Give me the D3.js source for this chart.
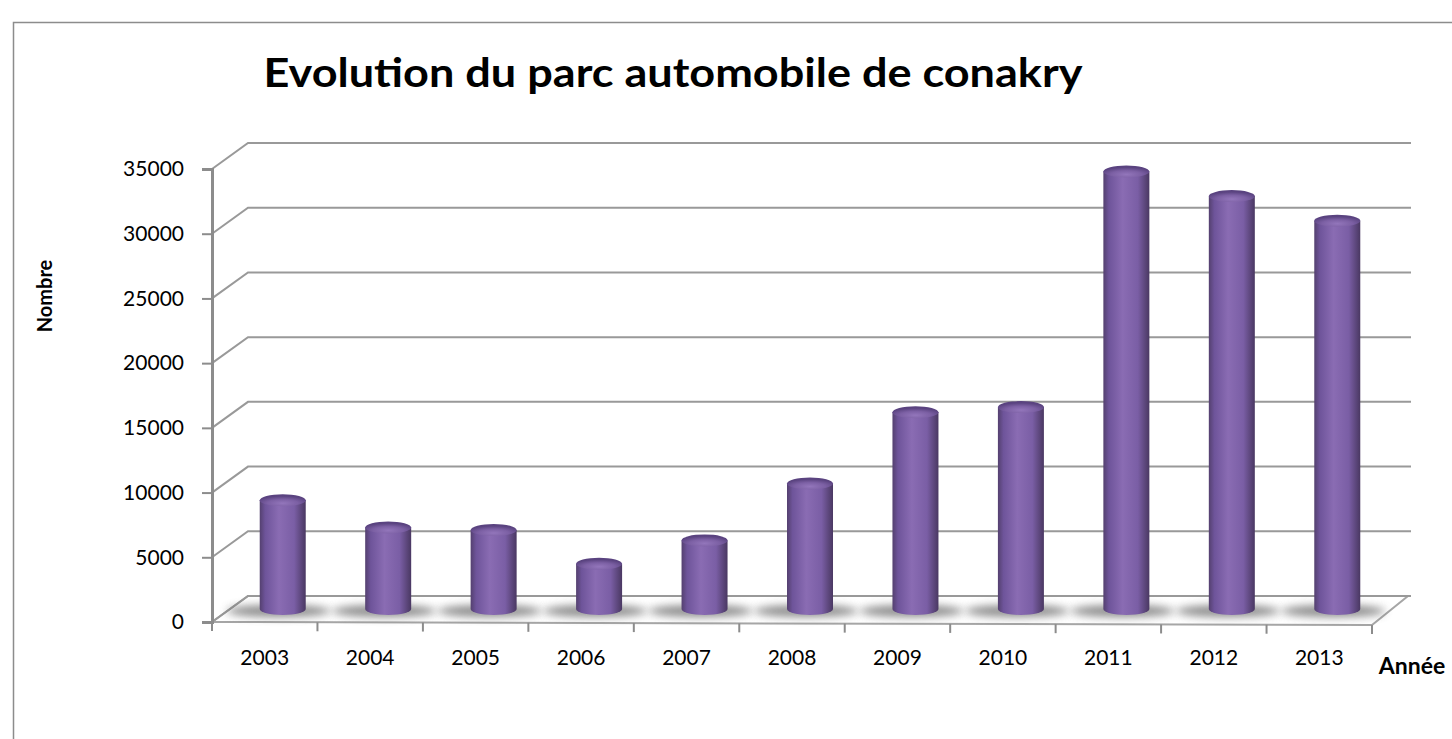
<!DOCTYPE html>
<html>
<head>
<meta charset="utf-8">
<script src="https://cdn.jsdelivr.net/npm/d3@7"></script>
<style>
  body { margin: 0; background: #fff; }
  svg { display: block; }
</style>
</head>
<body>
<div id="chart-container"></div>
<script>
// data
const years = ["2003", "2004", "2005", "2006", "2007", "2008", "2009", "2010", "2011", "2012", "2013"];
const counts = [8400, 6300, 6100, 3500, 5300, 9700, 15200, 15600, 33800, 31900, 30000];
const yTicks = [0, 5000, 10000, 15000, 20000, 25000, 30000, 35000];

const W = 1452, H = 739;
const depth = { dx: 36, dy: -26 };   // oblique offset of the back wall
const font = "Lato, 'Open Sans', sans-serif";

const svg = d3.select("#chart-container").append("svg")
    .attr("width", W).attr("height", H);

const defs = svg.append("defs");

// body gradient of the cylinders
const bodyGrad = defs.append("linearGradient").attr("id", "cyl").attr("x1", "0").attr("x2", "1");
[["0%", "#54406f"], ["12%", "#6e549a"], ["42%", "#8a6cb3"], ["75%", "#7a5ea5"], ["100%", "#4a3862"]]
    .forEach(([o, c]) => bodyGrad.append("stop").attr("offset", o).attr("stop-color", c));

const topGrad = defs.append("radialGradient").attr("id", "cyltop").attr("cx", "50%").attr("cy", "75%").attr("r", "60%");
[["0%", "#9376bb"], ["55%", "#7c60a4"], ["100%", "#5a4380"]]
    .forEach(([o, c]) => topGrad.append("stop").attr("offset", o).attr("stop-color", c));

defs.append("filter").attr("id", "blur").attr("x", "-50%").attr("y", "-200%").attr("width", "200%").attr("height", "500%")
    .append("feGaussianBlur").attr("stdDeviation", 4);

// outer border
svg.append("rect")
    .attr("x", 13.5).attr("y", 22.5).attr("width", W + 20).attr("height", H + 20)
    .attr("fill", "none").attr("stroke", "#8c8c8c").attr("stroke-width", 1.5);

const x = d3.scaleBand().domain(years).range([212, 1372]);
const y = d3.scaleLinear().domain([0, 35000]).range([622, 169]);

// floor
const x0 = x.range()[0], x1 = x.range()[1], y0 = y(0);
svg.append("polygon")
    .attr("points", [[x0, y0], [x1, y0 + 3], [x1 + depth.dx, y0 + depth.dy], [x0 + depth.dx, y0 + depth.dy]].join(" "))
    .attr("fill", "#fff").attr("stroke", "#a6a6a6").attr("stroke-width", 2);

// gridlines on side wall and back wall
const grid = svg.append("g").attr("stroke", "#999").attr("stroke-width", 2).attr("fill", "none");
yTicks.forEach(t => {
    grid.append("polyline")
        .attr("points", [[x0, y(t)], [x0 + depth.dx, y(t) + depth.dy], [x1 + depth.dx + 3, y(t) + depth.dy]].join(" "));
});

// shadows of the bars on the floor
const mid = { dx: depth.dx / 2, dy: depth.dy / 2 };
svg.append("g").selectAll("ellipse")
    .data(years)
    .join("ellipse")
    .attr("cx", d => x(d) + x.bandwidth() / 2 + mid.dx - 4)
    .attr("cy", y0 + mid.dy + 2)
    .attr("rx", 52).attr("ry", 6)
    .attr("fill", "#6e6e6e").attr("opacity", 0.8)
    .attr("filter", "url(#blur)");

// cylinders
const rx = 23, ry = 6;
const bars = svg.append("g").selectAll("g")
    .data(years.map((d, i) => ({ year: d, value: counts[i] })))
    .join("g")
    .attr("transform", d => `translate(${x(d.year) + x.bandwidth() / 2 + mid.dx},0)`);

bars.append("path")
    .attr("d", d => {
        const yt = y(d.value) + mid.dy, yb = y0 + mid.dy;
        return `M${-rx},${yt} L${-rx},${yb} A${rx},${ry} 0 0 0 ${rx},${yb} L${rx},${yt} Z`;
    })
    .attr("fill", "url(#cyl)");

bars.append("ellipse")
    .attr("cx", 0).attr("cy", d => y(d.value) + mid.dy)
    .attr("rx", rx).attr("ry", ry)
    .attr("fill", "url(#cyltop)");

// y axis
const yAxis = svg.append("g")
    .attr("transform", `translate(${x0},0)`)
    .call(d3.axisLeft(y).tickValues(yTicks).tickFormat(d3.format("d")).tickSize(10).tickPadding(18));
yAxis.select(".domain").attr("stroke", "#8c8c8c").attr("stroke-width", 3);
yAxis.selectAll(".tick line").attr("stroke", "#8c8c8c").attr("stroke-width", 2);
yAxis.selectAll("text").attr("font-family", font).attr("font-size", 21).attr("fill", "#000");

// x axis: labels at category centres, ticks on the boundaries
const xAxis = svg.append("g")
    .attr("transform", `translate(0,${y0})`)
    .call(d3.axisBottom(x).tickSize(0).tickPadding(28));
xAxis.select(".domain").remove();
xAxis.selectAll("text").attr("font-family", font).attr("font-size", 21).attr("fill", "#000");

svg.append("g").selectAll("line")
    .data(years.map(d => x(d)).concat([x1]))
    .join("line")
    .attr("x1", d => d).attr("x2", d => d)
    .attr("y1", d => y0 + 3 * (d - x0) / (x1 - x0))
    .attr("y2", d => y0 + 9 + 3 * (d - x0) / (x1 - x0))
    .attr("stroke", "#8c8c8c").attr("stroke-width", 2);

// titles
svg.append("text")
    .attr("x", 673).attr("y", 87)
    .attr("text-anchor", "middle")
    .attr("font-family", font).attr("font-weight", "bold").attr("font-size", 40)
    .attr("textLength", 819).attr("lengthAdjust", "spacingAndGlyphs")
    .text("Evolution du parc automobile de conakry");

svg.append("text")
    .attr("transform", "translate(52,296) rotate(-90)")
    .attr("text-anchor", "middle")
    .attr("font-family", font).attr("font-weight", "bold").attr("font-size", 20)
    .text("Nombre");

svg.append("text")
    .attr("x", 1412).attr("y", 674)
    .attr("text-anchor", "middle")
    .attr("font-family", font).attr("font-weight", "bold").attr("font-size", 23)
    .text("Année");
</script>
</body>
</html>
